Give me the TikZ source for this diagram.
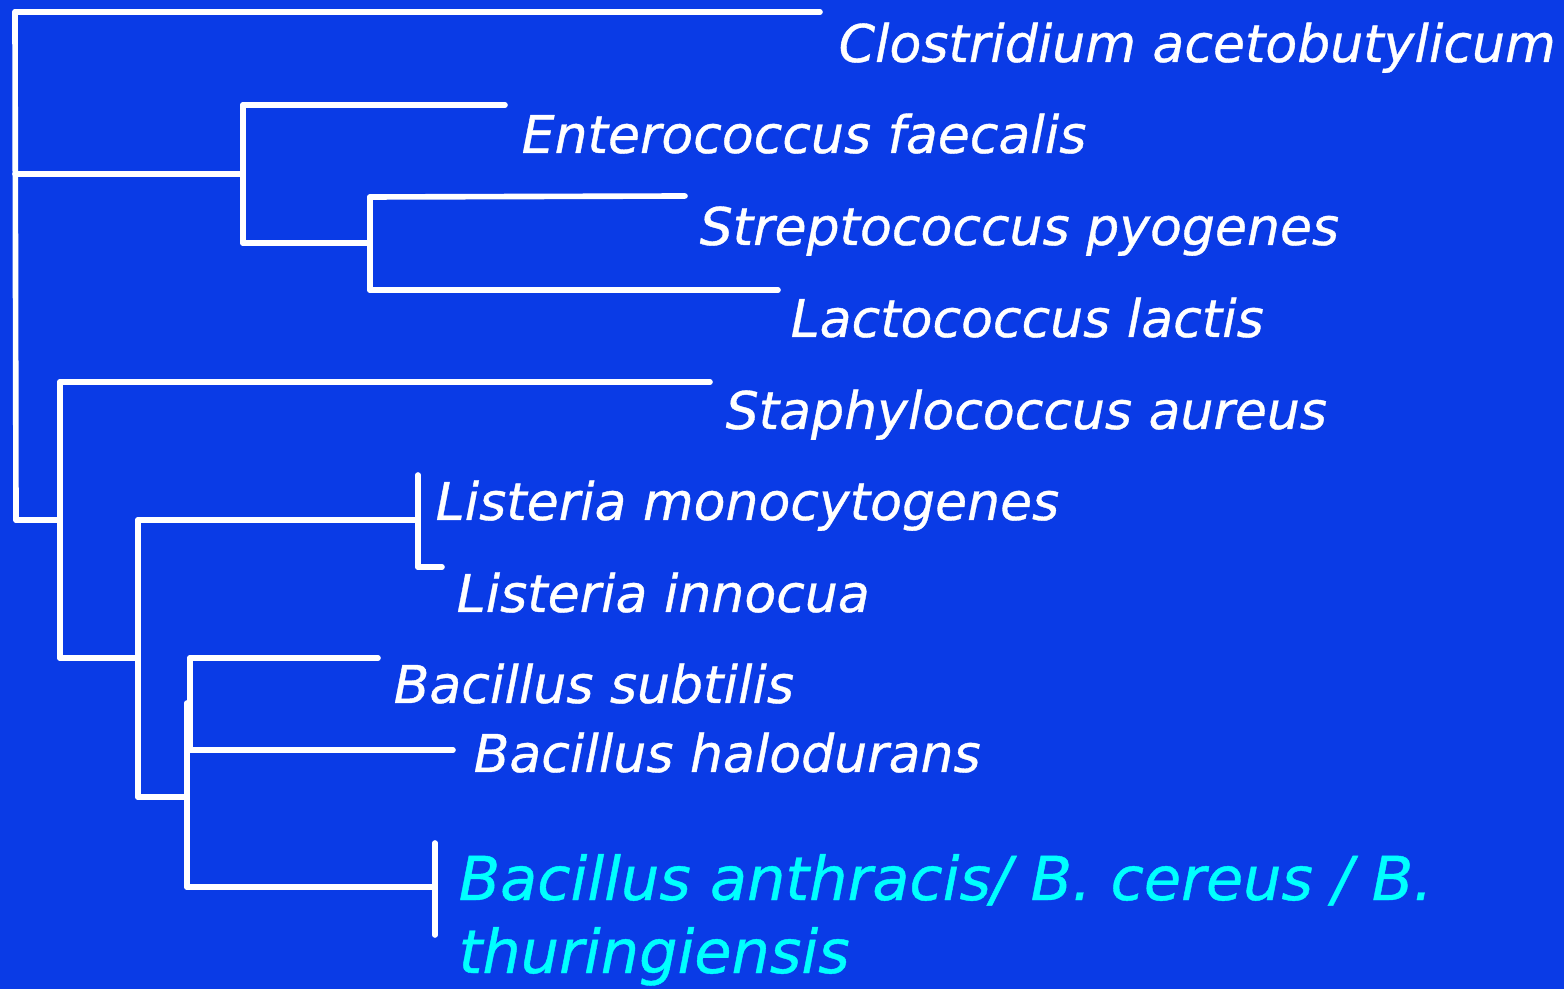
\documentclass[tikz,border=0pt]{standalone}
\usepackage{fontspec}
\setmainfont{DejaVu Sans}[ItalicFeatures={FakeBold=0.7}]
\usetikzlibrary{positioning}
\definecolor{slideblue}{RGB}{10,59,230}
\definecolor{slidecyan}{RGB}{0,255,255}

\begin{document}
\begin{tikzpicture}[x=0.01cm,y=-0.01cm,
  branch/.style={draw=white,line width=1.6pt,line cap=round},
  taxon/.style={anchor=base west,inner sep=0pt,text=white,
    font=\fontsize{14.8}{17}\selectfont\itshape},
  target/.style={taxon,text=slidecyan,font=\fontsize{17.2}{21}\selectfont\itshape}]

  % Background
  \fill[slideblue] (0,0) rectangle (1564,989);
  \useasboundingbox (0,0) rectangle (1564,989);

  % Taxa
  \node[taxon] (clos) at (838,62) {Clostridium acetobutylicum};
  \node[taxon] (ente) at (521,153) {Enterococcus faecalis};
  \node[taxon] (strp) at (699,245) {Streptococcus pyogenes};
  \node[taxon] (lact) at (790,337) {Lactococcus lactis};
  \node[taxon] (stap) at (725,429) {Staphylococcus aureus};
  \node[taxon] (lmon) at (435,520) {Listeria monocytogenes};
  \node[taxon] (linn) at (456,612) {Listeria innocua};
  \node[taxon] (bsub) at (393,703) {Bacillus subtilis};
  \node[taxon] (bhal) at (473,772) {Bacillus halodurans};
  \node[target] (bant) at (458,900) {Bacillus anthracis/ B. cereus / B.};
  \node[target] (bthu) at (458,973) {thuringiensis};

  % Tips of the branches
  \coordinate (tclos) at (820,12);
  \coordinate (tente) at (505,105);
  \coordinate (tstrp) at (685,196);
  \coordinate (tlact) at (778,290);
  \coordinate (tstap) at (710,382);
  \coordinate (tlinn) at (442,567);
  \coordinate (tbsub) at (378,658);
  \coordinate (tbhal) at (453,750);

  % Inner nodes (top and bottom of each fork)
  \coordinate (root) at (15,12);   \coordinate (rootb) at (16,520);
  \coordinate (lacA) at (243,105); \coordinate (lacAb) at (243,243);
  \coordinate (lacB) at (370,197); \coordinate (lacBb) at (370,290);
  \coordinate (bacA) at (60,382);  \coordinate (bacAb) at (60,658);
  \coordinate (bacB) at (138,520); \coordinate (bacBb) at (138,797);
  \coordinate (list) at (418,475); \coordinate (listb) at (418,567);
  \coordinate (bacC) at (190,658); \coordinate (bacCm) at (190,750);
  \coordinate (bacD) at (187,703); \coordinate (bacDb) at (187,887);
  \coordinate (anth) at (435,843); \coordinate (anthb) at (435,935);

  % Root
  \draw[branch] (root) -- (rootb);
  \draw[branch] (root) -- (tclos);

  % Lactobacillales
  \draw[branch] (15,174) -- (lacA |- 15,174);
  \draw[branch] (lacA) -- (lacAb);
  \draw[branch] (lacA) -- (tente);
  \draw[branch] (lacAb) -- (lacB |- lacAb);
  \draw[branch] (lacB) -- (lacBb);
  \draw[branch] (lacB) -- (tstrp);
  \draw[branch] (lacBb) -- (tlact);

  % Bacillales
  \draw[branch] (rootb) -- (bacA |- rootb);
  \draw[branch] (bacA) -- (bacAb);
  \draw[branch] (bacA) -- (tstap);
  \draw[branch] (bacAb) -- (bacB |- bacAb);
  \draw[branch] (bacB) -- (bacBb);
  \draw[branch] (bacB) -- (list |- bacB);
  \draw[branch] (list) -- (listb);
  \draw[branch] (listb) -- (tlinn);
  \draw[branch] (bacBb) -- (bacDb |- bacBb);
  \draw[branch] (bacC) -- (bacCm);
  \draw[branch] (bacD) -- (bacDb);
  \draw[branch] (bacC) -- (tbsub);
  \draw[branch] (bacCm) -- (tbhal);
  \draw[branch] (bacDb) -- (anth |- bacDb);
  \draw[branch] (anth) -- (anthb);

\end{tikzpicture}
\end{document}
